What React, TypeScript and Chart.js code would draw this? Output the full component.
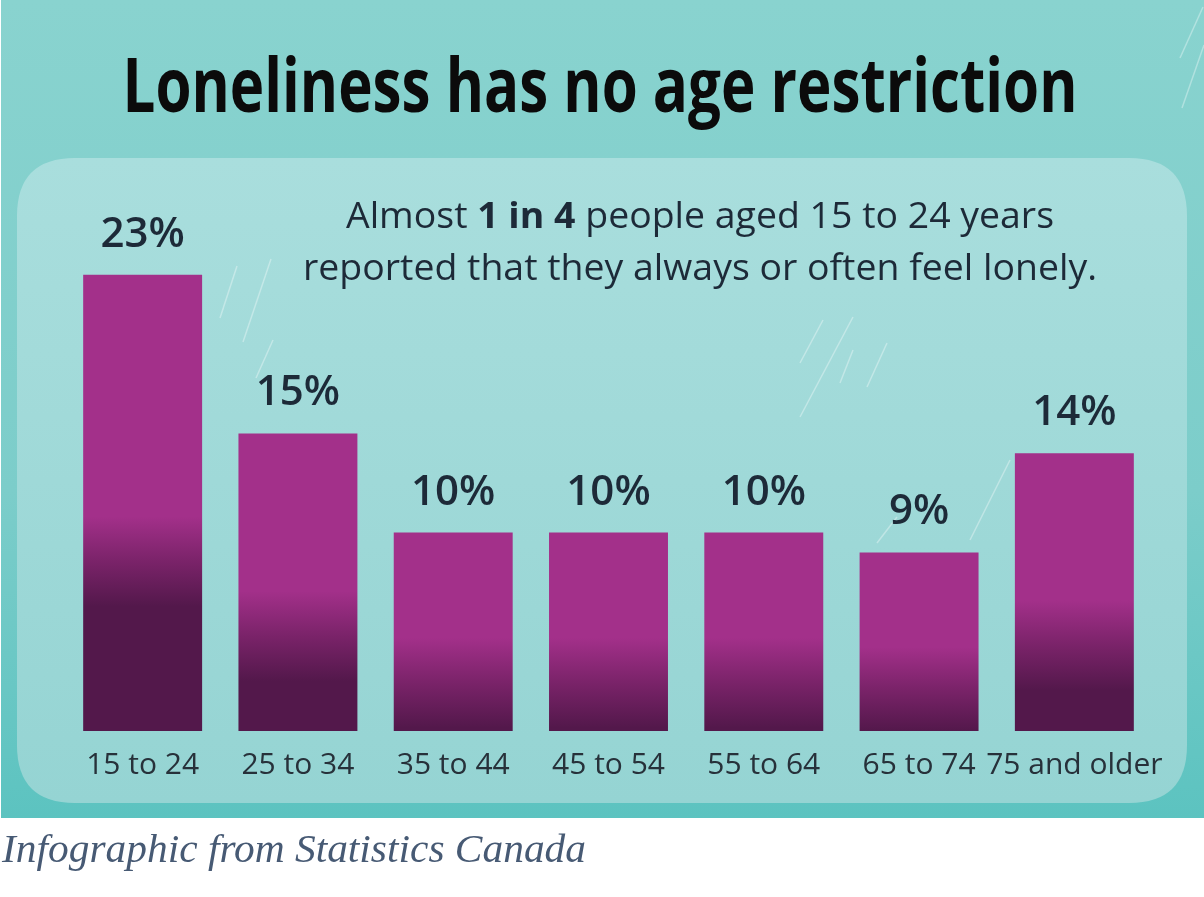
import React, { useEffect, useRef } from "react";
import { Chart, registerables } from "chart.js";

Chart.register(...registerables);

// ---- data ----
const categories = ["15 to 24", "25 to 34", "35 to 44", "45 to 54", "55 to 64", "65 to 74", "75 and older"];
const lonelinessPct = [23, 15, 10, 10, 10, 9, 14];
const valueLabels = ["23%", "15%", "10%", "10%", "10%", "9%", "14%"];
const titleText = "Loneliness has no age restriction";
const subtitleLine1: [string, boolean][] = [
  ["Almost ", false],
  ["1 in 4", true],
  [" people aged 15 to 24 years", false],
];
const subtitleLine2 = "reported that they always or often feel lonely.";
const captionText = "Infographic from Statistics Canada";

const MAGENTA = "#a3308a";
const MID = "#7a2369";
const DARK = "#53184b";
const TEXT_DARK = "#1d2a38";

// decorative rain streaks [x1, y1, x2, y2]
const streaks = [
  [220, 318, 237, 266],
  [243, 342, 271, 259],
  [256, 378, 273, 340],
  [800, 363, 823, 320],
  [800, 417, 853, 317],
  [840, 383, 853, 350],
  [867, 387, 887, 343],
  [970, 540, 1010, 460],
  [877, 543, 897, 517],
  [1180, 58, 1203, 7],
  [1182, 108, 1204, 45],
];

const W = 1204;
const H = 897;

function roundRect(ctx: CanvasRenderingContext2D, x: number, y: number, w: number, h: number, r: number) {
  ctx.beginPath();
  ctx.moveTo(x + r, y);
  ctx.lineTo(x + w - r, y);
  ctx.quadraticCurveTo(x + w, y, x + w, y + r);
  ctx.lineTo(x + w, y + h - r);
  ctx.quadraticCurveTo(x + w, y + h, x + w - r, y + h);
  ctx.lineTo(x + r, y + h);
  ctx.quadraticCurveTo(x, y + h, x, y + h - r);
  ctx.lineTo(x, y + r);
  ctx.quadraticCurveTo(x, y, x + r, y);
  ctx.closePath();
}

const backgroundPlugin = {
  id: "infographicBackground",
  beforeDraw(chart: any) {
    const ctx: CanvasRenderingContext2D = chart.ctx;
    ctx.save();
    ctx.fillStyle = "#ffffff";
    ctx.fillRect(0, 0, W, H);
    // outer teal
    const g = ctx.createLinearGradient(0, 0, 0, 818);
    g.addColorStop(0, "#89d3cf");
    g.addColorStop(0.6, "#7ccdca");
    g.addColorStop(1, "#5cc3c0");
    ctx.fillStyle = g;
    ctx.fillRect(1, 0, W - 1, 818);
    // panel
    const pg = ctx.createLinearGradient(0, 158, 0, 803);
    pg.addColorStop(0, "#a9dedd");
    pg.addColorStop(1, "#95d4d3");
    ctx.fillStyle = pg;
    roundRect(ctx, 17, 158, 1170, 645, 58);
    ctx.fill();
    // streaks
    ctx.strokeStyle = "rgba(255,255,255,0.35)";
    ctx.lineWidth = 1.5;
    for (const s of streaks) {
      ctx.beginPath();
      ctx.moveTo(s[0], s[1]);
      ctx.lineTo(s[2], s[3]);
      ctx.stroke();
    }
    // title
    ctx.fillStyle = "#0b0b0b";
    ctx.font = 'bold 76px "Open Sans"';
    ctx.textAlign = "center";
    ctx.textBaseline = "alphabetic";
    ctx.fillText(titleText, 600, 112, 955);

    // subtitle
    const normalFont = '500 36px "Open Sans"';
    const boldFont = 'bold 36px "Open Sans"';
    ctx.textAlign = "left";
    ctx.fillStyle = TEXT_DARK;
    ctx.font = normalFont;
    const w2 = ctx.measureText(subtitleLine2).width;
    const sc = 794 / w2;
    let w1 = 0;
    for (const [t, b] of subtitleLine1) {
      ctx.font = b ? boldFont : normalFont;
      w1 += ctx.measureText(t).width;
    }
    ctx.save();
    ctx.translate(700 - (w1 * sc) / 2, 228);
    ctx.scale(sc, 1);
    let cx = 0;
    for (const [t, b] of subtitleLine1) {
      ctx.font = b ? boldFont : normalFont;
      ctx.fillText(t, cx, 0);
      cx += ctx.measureText(t).width;
    }
    ctx.restore();
    ctx.save();
    ctx.translate(700 - (w2 * sc) / 2, 280);
    ctx.scale(sc, 1);
    ctx.font = normalFont;
    ctx.fillText(subtitleLine2, 0, 0);
    ctx.restore();

    // caption
    ctx.font = 'italic 41px "Liberation Serif"';
    ctx.fillStyle = "#475a74";
    const cw = ctx.measureText(captionText).width;
    ctx.save();
    ctx.translate(2, 862);
    ctx.scale(584 / cw, 1);
    ctx.fillText(captionText, 0, 0);
    ctx.restore();
    ctx.restore();
  },
};

const valueLabelPlugin = {
  id: "valueLabels",
  afterDatasetsDraw(chart: any) {
    const ctx: CanvasRenderingContext2D = chart.ctx;
    const meta = chart.getDatasetMeta(0);
    ctx.save();
    ctx.font = '600 42px "Open Sans"';
    ctx.fillStyle = TEXT_DARK;
    ctx.textAlign = "center";
    ctx.textBaseline = "alphabetic";
    meta.data.forEach((bar: any, i: number) => {
      ctx.fillText(valueLabels[i], bar.x, bar.y - 28);
    });
    ctx.restore();
  },
};

function barGradient(context: any) {
  const chart = context.chart;
  if (!chart.chartArea) return MAGENTA;
  const yScale = chart.scales.y;
  const v = context.raw as number;
  const top = yScale.getPixelForValue(v);
  const base = yScale.getPixelForValue(0);
  const start = top + (base - top) * 0.53;
  const end = Math.min(start + 90, base);
  const g = chart.ctx.createLinearGradient(0, start, 0, end);
  g.addColorStop(0, MAGENTA);
  g.addColorStop(0.5, MID);
  g.addColorStop(1, DARK);
  return g;
}

export default function App() {
  const ref = useRef<HTMLCanvasElement | null>(null);
  useEffect(() => {
    document.body.style.margin = "0";
    const canvas = ref.current!;
    const chart = new Chart(canvas, {
      type: "bar",
      data: {
        labels: categories,
        datasets: [
          {
            data: lonelinessPct,
            backgroundColor: barGradient,
            borderWidth: 0,
            barPercentage: 0.766,
            categoryPercentage: 1,
          },
        ],
      },
      options: {
        responsive: false,
        animation: false,
        devicePixelRatio: 1,
        layout: { padding: { left: 65, right: 52, top: 235, bottom: 98 } },
        plugins: {
          legend: { display: false },
          title: { display: false },
          tooltip: { enabled: false },
        },
        scales: {
          y: { display: false, min: 0, max: 25 },
          x: {
            grid: { display: false, drawTicks: false },
            border: { display: false },
            ticks: {
              color: "#27313a",
              font: { family: '"Open Sans"', size: 30, weight: "500" },
              padding: 16,
              maxRotation: 0,
              autoSkip: false,
            },
          },
        },
      },
      plugins: [backgroundPlugin, valueLabelPlugin],
    });
    return () => chart.destroy();
  }, []);
  return <canvas ref={ref} width={W} height={H} style={{ display: "block", width: W, height: H }} />;
}
